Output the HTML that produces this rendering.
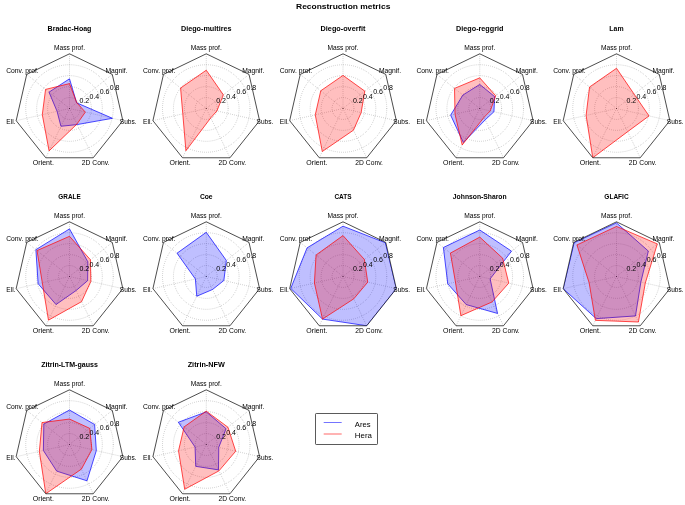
<!DOCTYPE html>
<html><head><meta charset="utf-8"><title>Reconstruction metrics</title>
<style>
html,body{margin:0;padding:0;background:#fff;}
body{width:685px;height:505px;overflow:hidden;font-family:"Liberation Sans",sans-serif;}
svg{display:block;will-change:transform;}
.gr{fill:none;stroke:#000;stroke-width:0.3;stroke-dasharray:0.6 1.46;}
.fr{fill:none;stroke:#000;stroke-width:0.7;stroke-linejoin:miter;}
.b{fill:#00f;fill-opacity:0.25;stroke:#00f;stroke-width:0.7;stroke-linejoin:round;}
.r{fill:#f00;fill-opacity:0.25;stroke:#f00;stroke-width:0.7;stroke-linejoin:round;}
</style></head><body>
<svg width="685" height="505" viewBox="0 0 685 505" font-family="'Liberation Sans', sans-serif" fill="#000">
<rect width="685" height="505" fill="#fff"/>
<text x="343.2" y="8.7" font-size="7.56" font-weight="bold" text-anchor="middle" textLength="94.33" lengthAdjust="spacingAndGlyphs">Reconstruction metrics</text>
<g>
<clipPath id="c0"><polygon points="69.5,53.8 26.73,74.4 16.17,120.67 45.77,157.78 93.23,157.78 122.83,120.67 112.27,74.4"/></clipPath>
<g clip-path="url(#c0)">
<circle cx="69.5" cy="108.5" r="10.94" class="gr"/>
<circle cx="69.5" cy="108.5" r="21.88" class="gr"/>
<circle cx="69.5" cy="108.5" r="32.82" class="gr"/>
<circle cx="69.5" cy="108.5" r="43.76" class="gr"/>
<line x1="69.5" y1="108.5" x2="69.5" y2="53.8" class="gr"/>
<line x1="69.5" y1="108.5" x2="26.73" y2="74.4" class="gr"/>
<line x1="69.5" y1="108.5" x2="16.17" y2="120.67" class="gr"/>
<line x1="69.5" y1="108.5" x2="45.77" y2="157.78" class="gr"/>
<line x1="69.5" y1="108.5" x2="93.23" y2="157.78" class="gr"/>
<line x1="69.5" y1="108.5" x2="122.83" y2="120.67" class="gr"/>
<line x1="69.5" y1="108.5" x2="112.27" y2="74.4" class="gr"/>
<polygon points="69.5,78.8 49.01,92.16 57.07,111.34 60.93,126.29 77.24,124.57 112.43,118.3 76.64,102.8" class="b"/>
<polygon points="69.5,83.61 45.55,89.4 42.3,114.71 49.09,150.88 76.98,124.02 85.34,112.12 76.77,102.7" class="r"/>
</g>
<polygon points="69.5,53.8 26.73,74.4 16.17,120.67 45.77,157.78 93.23,157.78 122.83,120.67 112.27,74.4" class="fr"/>
<circle cx="69.5" cy="108.5" r="0.3" fill="#000"/>
<text x="69.5" y="50.22" font-size="6.43" text-anchor="middle" textLength="31.02" lengthAdjust="spacingAndGlyphs">Mass prof.</text>
<text x="22.46" y="72.87" font-size="6.43" text-anchor="middle" textLength="32.6" lengthAdjust="spacingAndGlyphs">Conv. prof.</text>
<text x="10.84" y="123.78" font-size="6.43" text-anchor="middle" textLength="9.21" lengthAdjust="spacingAndGlyphs">Ell.</text>
<text x="43.39" y="164.6" font-size="6.43" text-anchor="middle" textLength="21.02" lengthAdjust="spacingAndGlyphs">Orient.</text>
<text x="95.61" y="164.6" font-size="6.43" text-anchor="middle" textLength="27.54" lengthAdjust="spacingAndGlyphs">2D Conv.</text>
<text x="128.16" y="123.78" font-size="6.43" text-anchor="middle" textLength="16.78" lengthAdjust="spacingAndGlyphs">Subs.</text>
<text x="116.54" y="72.87" font-size="6.43" text-anchor="middle" textLength="22.15" lengthAdjust="spacingAndGlyphs">Magnif.</text>
<text x="84.31" y="102.84" font-size="6.43" text-anchor="middle" textLength="9.73" lengthAdjust="spacingAndGlyphs">0.2</text>
<text x="94.41" y="98.66" font-size="6.43" text-anchor="middle" textLength="9.73" lengthAdjust="spacingAndGlyphs">0.4</text>
<text x="104.52" y="94.47" font-size="6.43" text-anchor="middle" textLength="9.73" lengthAdjust="spacingAndGlyphs">0.6</text>
<text x="114.63" y="90.28" font-size="6.43" text-anchor="middle" textLength="9.73" lengthAdjust="spacingAndGlyphs">0.8</text>
<text x="69.5" y="31.4" font-size="6.35" font-weight="bold" text-anchor="middle" textLength="43.82" lengthAdjust="spacingAndGlyphs">Bradac-Hoag</text>
</g>
<g>
<clipPath id="c1"><polygon points="206.25,53.8 163.48,74.4 152.92,120.67 182.52,157.78 229.98,157.78 259.58,120.67 249.02,74.4"/></clipPath>
<g clip-path="url(#c1)">
<circle cx="206.25" cy="108.5" r="10.94" class="gr"/>
<circle cx="206.25" cy="108.5" r="21.88" class="gr"/>
<circle cx="206.25" cy="108.5" r="32.82" class="gr"/>
<circle cx="206.25" cy="108.5" r="43.76" class="gr"/>
<line x1="206.25" y1="108.5" x2="206.25" y2="53.8" class="gr"/>
<line x1="206.25" y1="108.5" x2="163.48" y2="74.4" class="gr"/>
<line x1="206.25" y1="108.5" x2="152.92" y2="120.67" class="gr"/>
<line x1="206.25" y1="108.5" x2="182.52" y2="157.78" class="gr"/>
<line x1="206.25" y1="108.5" x2="229.98" y2="157.78" class="gr"/>
<line x1="206.25" y1="108.5" x2="259.58" y2="120.67" class="gr"/>
<line x1="206.25" y1="108.5" x2="249.02" y2="74.4" class="gr"/>
<polygon points="206.25,70.21 180.59,88.04 182.79,113.86 185.91,150.74 210.76,117.86 216.92,110.93 223.36,94.86" class="r"/>
</g>
<polygon points="206.25,53.8 163.48,74.4 152.92,120.67 182.52,157.78 229.98,157.78 259.58,120.67 249.02,74.4" class="fr"/>
<circle cx="206.25" cy="108.5" r="0.3" fill="#000"/>
<text x="206.25" y="50.22" font-size="6.43" text-anchor="middle" textLength="31.02" lengthAdjust="spacingAndGlyphs">Mass prof.</text>
<text x="159.21" y="72.87" font-size="6.43" text-anchor="middle" textLength="32.6" lengthAdjust="spacingAndGlyphs">Conv. prof.</text>
<text x="147.59" y="123.78" font-size="6.43" text-anchor="middle" textLength="9.21" lengthAdjust="spacingAndGlyphs">Ell.</text>
<text x="180.14" y="164.6" font-size="6.43" text-anchor="middle" textLength="21.02" lengthAdjust="spacingAndGlyphs">Orient.</text>
<text x="232.36" y="164.6" font-size="6.43" text-anchor="middle" textLength="27.54" lengthAdjust="spacingAndGlyphs">2D Conv.</text>
<text x="264.91" y="123.78" font-size="6.43" text-anchor="middle" textLength="16.78" lengthAdjust="spacingAndGlyphs">Subs.</text>
<text x="253.29" y="72.87" font-size="6.43" text-anchor="middle" textLength="22.15" lengthAdjust="spacingAndGlyphs">Magnif.</text>
<text x="221.06" y="102.84" font-size="6.43" text-anchor="middle" textLength="9.73" lengthAdjust="spacingAndGlyphs">0.2</text>
<text x="231.16" y="98.66" font-size="6.43" text-anchor="middle" textLength="9.73" lengthAdjust="spacingAndGlyphs">0.4</text>
<text x="241.27" y="94.47" font-size="6.43" text-anchor="middle" textLength="9.73" lengthAdjust="spacingAndGlyphs">0.6</text>
<text x="251.38" y="90.28" font-size="6.43" text-anchor="middle" textLength="9.73" lengthAdjust="spacingAndGlyphs">0.8</text>
<text x="206.25" y="31.4" font-size="6.35" font-weight="bold" text-anchor="middle" textLength="50.54" lengthAdjust="spacingAndGlyphs">Diego-multires</text>
</g>
<g>
<clipPath id="c2"><polygon points="343,53.8 300.23,74.4 289.67,120.67 319.27,157.78 366.73,157.78 396.33,120.67 385.77,74.4"/></clipPath>
<g clip-path="url(#c2)">
<circle cx="343" cy="108.5" r="10.94" class="gr"/>
<circle cx="343" cy="108.5" r="21.88" class="gr"/>
<circle cx="343" cy="108.5" r="32.82" class="gr"/>
<circle cx="343" cy="108.5" r="43.76" class="gr"/>
<line x1="343" y1="108.5" x2="343" y2="53.8" class="gr"/>
<line x1="343" y1="108.5" x2="300.23" y2="74.4" class="gr"/>
<line x1="343" y1="108.5" x2="289.67" y2="120.67" class="gr"/>
<line x1="343" y1="108.5" x2="319.27" y2="157.78" class="gr"/>
<line x1="343" y1="108.5" x2="366.73" y2="157.78" class="gr"/>
<line x1="343" y1="108.5" x2="396.33" y2="120.67" class="gr"/>
<line x1="343" y1="108.5" x2="385.77" y2="74.4" class="gr"/>
<polygon points="343,75.41 320.76,90.77 315.27,114.83 322.28,151.52 353.44,130.18 361.13,112.64 364.81,91.11" class="r"/>
</g>
<polygon points="343,53.8 300.23,74.4 289.67,120.67 319.27,157.78 366.73,157.78 396.33,120.67 385.77,74.4" class="fr"/>
<circle cx="343" cy="108.5" r="0.3" fill="#000"/>
<text x="343" y="50.22" font-size="6.43" text-anchor="middle" textLength="31.02" lengthAdjust="spacingAndGlyphs">Mass prof.</text>
<text x="295.96" y="72.87" font-size="6.43" text-anchor="middle" textLength="32.6" lengthAdjust="spacingAndGlyphs">Conv. prof.</text>
<text x="284.34" y="123.78" font-size="6.43" text-anchor="middle" textLength="9.21" lengthAdjust="spacingAndGlyphs">Ell.</text>
<text x="316.89" y="164.6" font-size="6.43" text-anchor="middle" textLength="21.02" lengthAdjust="spacingAndGlyphs">Orient.</text>
<text x="369.11" y="164.6" font-size="6.43" text-anchor="middle" textLength="27.54" lengthAdjust="spacingAndGlyphs">2D Conv.</text>
<text x="401.66" y="123.78" font-size="6.43" text-anchor="middle" textLength="16.78" lengthAdjust="spacingAndGlyphs">Subs.</text>
<text x="390.04" y="72.87" font-size="6.43" text-anchor="middle" textLength="22.15" lengthAdjust="spacingAndGlyphs">Magnif.</text>
<text x="357.81" y="102.84" font-size="6.43" text-anchor="middle" textLength="9.73" lengthAdjust="spacingAndGlyphs">0.2</text>
<text x="367.91" y="98.66" font-size="6.43" text-anchor="middle" textLength="9.73" lengthAdjust="spacingAndGlyphs">0.4</text>
<text x="378.02" y="94.47" font-size="6.43" text-anchor="middle" textLength="9.73" lengthAdjust="spacingAndGlyphs">0.6</text>
<text x="388.13" y="90.28" font-size="6.43" text-anchor="middle" textLength="9.73" lengthAdjust="spacingAndGlyphs">0.8</text>
<text x="343" y="31.4" font-size="6.35" font-weight="bold" text-anchor="middle" textLength="44.76" lengthAdjust="spacingAndGlyphs">Diego-overfit</text>
</g>
<g>
<clipPath id="c3"><polygon points="479.75,53.8 436.98,74.4 426.42,120.67 456.02,157.78 503.48,157.78 533.08,120.67 522.52,74.4"/></clipPath>
<g clip-path="url(#c3)">
<circle cx="479.75" cy="108.5" r="10.94" class="gr"/>
<circle cx="479.75" cy="108.5" r="21.88" class="gr"/>
<circle cx="479.75" cy="108.5" r="32.82" class="gr"/>
<circle cx="479.75" cy="108.5" r="43.76" class="gr"/>
<line x1="479.75" y1="108.5" x2="479.75" y2="53.8" class="gr"/>
<line x1="479.75" y1="108.5" x2="436.98" y2="74.4" class="gr"/>
<line x1="479.75" y1="108.5" x2="426.42" y2="120.67" class="gr"/>
<line x1="479.75" y1="108.5" x2="456.02" y2="157.78" class="gr"/>
<line x1="479.75" y1="108.5" x2="503.48" y2="157.78" class="gr"/>
<line x1="479.75" y1="108.5" x2="533.08" y2="120.67" class="gr"/>
<line x1="479.75" y1="108.5" x2="522.52" y2="74.4" class="gr"/>
<polygon points="479.75,84.43 462.9,95.06 450.63,115.15 463.37,142.51 485.21,119.84 493.94,111.74 494.63,96.63" class="b"/>
<polygon points="479.75,77.87 454.52,88.38 455.01,114.15 462.19,144.97 484.02,117.37 490.26,110.9 495.7,95.78" class="r"/>
</g>
<polygon points="479.75,53.8 436.98,74.4 426.42,120.67 456.02,157.78 503.48,157.78 533.08,120.67 522.52,74.4" class="fr"/>
<circle cx="479.75" cy="108.5" r="0.3" fill="#000"/>
<text x="479.75" y="50.22" font-size="6.43" text-anchor="middle" textLength="31.02" lengthAdjust="spacingAndGlyphs">Mass prof.</text>
<text x="432.71" y="72.87" font-size="6.43" text-anchor="middle" textLength="32.6" lengthAdjust="spacingAndGlyphs">Conv. prof.</text>
<text x="421.09" y="123.78" font-size="6.43" text-anchor="middle" textLength="9.21" lengthAdjust="spacingAndGlyphs">Ell.</text>
<text x="453.64" y="164.6" font-size="6.43" text-anchor="middle" textLength="21.02" lengthAdjust="spacingAndGlyphs">Orient.</text>
<text x="505.86" y="164.6" font-size="6.43" text-anchor="middle" textLength="27.54" lengthAdjust="spacingAndGlyphs">2D Conv.</text>
<text x="538.41" y="123.78" font-size="6.43" text-anchor="middle" textLength="16.78" lengthAdjust="spacingAndGlyphs">Subs.</text>
<text x="526.79" y="72.87" font-size="6.43" text-anchor="middle" textLength="22.15" lengthAdjust="spacingAndGlyphs">Magnif.</text>
<text x="494.56" y="102.84" font-size="6.43" text-anchor="middle" textLength="9.73" lengthAdjust="spacingAndGlyphs">0.2</text>
<text x="504.66" y="98.66" font-size="6.43" text-anchor="middle" textLength="9.73" lengthAdjust="spacingAndGlyphs">0.4</text>
<text x="514.77" y="94.47" font-size="6.43" text-anchor="middle" textLength="9.73" lengthAdjust="spacingAndGlyphs">0.6</text>
<text x="524.88" y="90.28" font-size="6.43" text-anchor="middle" textLength="9.73" lengthAdjust="spacingAndGlyphs">0.8</text>
<text x="479.75" y="31.4" font-size="6.35" font-weight="bold" text-anchor="middle" textLength="47.33" lengthAdjust="spacingAndGlyphs">Diego-reggrid</text>
</g>
<g>
<clipPath id="c4"><polygon points="616.5,53.8 573.73,74.4 563.17,120.67 592.77,157.78 640.23,157.78 669.83,120.67 659.27,74.4"/></clipPath>
<g clip-path="url(#c4)">
<circle cx="616.5" cy="108.5" r="10.94" class="gr"/>
<circle cx="616.5" cy="108.5" r="21.88" class="gr"/>
<circle cx="616.5" cy="108.5" r="32.82" class="gr"/>
<circle cx="616.5" cy="108.5" r="43.76" class="gr"/>
<line x1="616.5" y1="108.5" x2="616.5" y2="53.8" class="gr"/>
<line x1="616.5" y1="108.5" x2="573.73" y2="74.4" class="gr"/>
<line x1="616.5" y1="108.5" x2="563.17" y2="120.67" class="gr"/>
<line x1="616.5" y1="108.5" x2="592.77" y2="157.78" class="gr"/>
<line x1="616.5" y1="108.5" x2="640.23" y2="157.78" class="gr"/>
<line x1="616.5" y1="108.5" x2="669.83" y2="120.67" class="gr"/>
<line x1="616.5" y1="108.5" x2="659.27" y2="74.4" class="gr"/>
<polygon points="616.5,68.3 589.56,87.01 586.1,115.44 592.77,157.78 627.65,131.66 649.03,115.92 634.25,94.35" class="r"/>
</g>
<polygon points="616.5,53.8 573.73,74.4 563.17,120.67 592.77,157.78 640.23,157.78 669.83,120.67 659.27,74.4" class="fr"/>
<circle cx="616.5" cy="108.5" r="0.3" fill="#000"/>
<text x="616.5" y="50.22" font-size="6.43" text-anchor="middle" textLength="31.02" lengthAdjust="spacingAndGlyphs">Mass prof.</text>
<text x="569.46" y="72.87" font-size="6.43" text-anchor="middle" textLength="32.6" lengthAdjust="spacingAndGlyphs">Conv. prof.</text>
<text x="557.84" y="123.78" font-size="6.43" text-anchor="middle" textLength="9.21" lengthAdjust="spacingAndGlyphs">Ell.</text>
<text x="590.39" y="164.6" font-size="6.43" text-anchor="middle" textLength="21.02" lengthAdjust="spacingAndGlyphs">Orient.</text>
<text x="642.61" y="164.6" font-size="6.43" text-anchor="middle" textLength="27.54" lengthAdjust="spacingAndGlyphs">2D Conv.</text>
<text x="675.16" y="123.78" font-size="6.43" text-anchor="middle" textLength="16.78" lengthAdjust="spacingAndGlyphs">Subs.</text>
<text x="663.54" y="72.87" font-size="6.43" text-anchor="middle" textLength="22.15" lengthAdjust="spacingAndGlyphs">Magnif.</text>
<text x="631.31" y="102.84" font-size="6.43" text-anchor="middle" textLength="9.73" lengthAdjust="spacingAndGlyphs">0.2</text>
<text x="641.41" y="98.66" font-size="6.43" text-anchor="middle" textLength="9.73" lengthAdjust="spacingAndGlyphs">0.4</text>
<text x="651.52" y="94.47" font-size="6.43" text-anchor="middle" textLength="9.73" lengthAdjust="spacingAndGlyphs">0.6</text>
<text x="661.63" y="90.28" font-size="6.43" text-anchor="middle" textLength="9.73" lengthAdjust="spacingAndGlyphs">0.8</text>
<text x="616.5" y="31.4" font-size="6.35" font-weight="bold" text-anchor="middle" textLength="14.24" lengthAdjust="spacingAndGlyphs">Lam</text>
</g>
<g>
<clipPath id="c5"><polygon points="69.5,221.8 26.73,242.4 16.17,288.67 45.77,325.78 93.23,325.78 122.83,288.67 112.27,242.4"/></clipPath>
<g clip-path="url(#c5)">
<circle cx="69.5" cy="276.5" r="10.94" class="gr"/>
<circle cx="69.5" cy="276.5" r="21.88" class="gr"/>
<circle cx="69.5" cy="276.5" r="32.82" class="gr"/>
<circle cx="69.5" cy="276.5" r="43.76" class="gr"/>
<line x1="69.5" y1="276.5" x2="69.5" y2="221.8" class="gr"/>
<line x1="69.5" y1="276.5" x2="26.73" y2="242.4" class="gr"/>
<line x1="69.5" y1="276.5" x2="16.17" y2="288.67" class="gr"/>
<line x1="69.5" y1="276.5" x2="45.77" y2="325.78" class="gr"/>
<line x1="69.5" y1="276.5" x2="93.23" y2="325.78" class="gr"/>
<line x1="69.5" y1="276.5" x2="122.83" y2="288.67" class="gr"/>
<line x1="69.5" y1="276.5" x2="112.27" y2="242.4" class="gr"/>
<polygon points="69.5,228.91 35.89,249.69 38.14,283.66 56,304.54 76.22,290.45 87.63,280.64 87.89,261.83" class="b"/>
<polygon points="69.5,236.3 37,250.58 42.3,282.71 48.47,320.16 81.6,301.63 90.83,281.37 90.46,259.79" class="r"/>
</g>
<polygon points="69.5,221.8 26.73,242.4 16.17,288.67 45.77,325.78 93.23,325.78 122.83,288.67 112.27,242.4" class="fr"/>
<circle cx="69.5" cy="276.5" r="0.3" fill="#000"/>
<text x="69.5" y="218.22" font-size="6.43" text-anchor="middle" textLength="31.02" lengthAdjust="spacingAndGlyphs">Mass prof.</text>
<text x="22.46" y="240.87" font-size="6.43" text-anchor="middle" textLength="32.6" lengthAdjust="spacingAndGlyphs">Conv. prof.</text>
<text x="10.84" y="291.78" font-size="6.43" text-anchor="middle" textLength="9.21" lengthAdjust="spacingAndGlyphs">Ell.</text>
<text x="43.39" y="332.6" font-size="6.43" text-anchor="middle" textLength="21.02" lengthAdjust="spacingAndGlyphs">Orient.</text>
<text x="95.61" y="332.6" font-size="6.43" text-anchor="middle" textLength="27.54" lengthAdjust="spacingAndGlyphs">2D Conv.</text>
<text x="128.16" y="291.78" font-size="6.43" text-anchor="middle" textLength="16.78" lengthAdjust="spacingAndGlyphs">Subs.</text>
<text x="116.54" y="240.87" font-size="6.43" text-anchor="middle" textLength="22.15" lengthAdjust="spacingAndGlyphs">Magnif.</text>
<text x="84.31" y="270.84" font-size="6.43" text-anchor="middle" textLength="9.73" lengthAdjust="spacingAndGlyphs">0.2</text>
<text x="94.41" y="266.66" font-size="6.43" text-anchor="middle" textLength="9.73" lengthAdjust="spacingAndGlyphs">0.4</text>
<text x="104.52" y="262.47" font-size="6.43" text-anchor="middle" textLength="9.73" lengthAdjust="spacingAndGlyphs">0.6</text>
<text x="114.63" y="258.28" font-size="6.43" text-anchor="middle" textLength="9.73" lengthAdjust="spacingAndGlyphs">0.8</text>
<text x="69.5" y="199.4" font-size="6.35" font-weight="bold" text-anchor="middle" textLength="22.29" lengthAdjust="spacingAndGlyphs">GRALE</text>
</g>
<g>
<clipPath id="c6"><polygon points="206.25,221.8 163.48,242.4 152.92,288.67 182.52,325.78 229.98,325.78 259.58,288.67 249.02,242.4"/></clipPath>
<g clip-path="url(#c6)">
<circle cx="206.25" cy="276.5" r="10.94" class="gr"/>
<circle cx="206.25" cy="276.5" r="21.88" class="gr"/>
<circle cx="206.25" cy="276.5" r="32.82" class="gr"/>
<circle cx="206.25" cy="276.5" r="43.76" class="gr"/>
<line x1="206.25" y1="276.5" x2="206.25" y2="221.8" class="gr"/>
<line x1="206.25" y1="276.5" x2="163.48" y2="242.4" class="gr"/>
<line x1="206.25" y1="276.5" x2="152.92" y2="288.67" class="gr"/>
<line x1="206.25" y1="276.5" x2="182.52" y2="325.78" class="gr"/>
<line x1="206.25" y1="276.5" x2="229.98" y2="325.78" class="gr"/>
<line x1="206.25" y1="276.5" x2="259.58" y2="288.67" class="gr"/>
<line x1="206.25" y1="276.5" x2="249.02" y2="242.4" class="gr"/>
<polygon points="206.25,232.3 177.04,253.21 195.37,278.98 196.76,296.21 212.52,289.51 223.85,280.52 226.35,260.47" class="b"/>
</g>
<polygon points="206.25,221.8 163.48,242.4 152.92,288.67 182.52,325.78 229.98,325.78 259.58,288.67 249.02,242.4" class="fr"/>
<circle cx="206.25" cy="276.5" r="0.3" fill="#000"/>
<text x="206.25" y="218.22" font-size="6.43" text-anchor="middle" textLength="31.02" lengthAdjust="spacingAndGlyphs">Mass prof.</text>
<text x="159.21" y="240.87" font-size="6.43" text-anchor="middle" textLength="32.6" lengthAdjust="spacingAndGlyphs">Conv. prof.</text>
<text x="147.59" y="291.78" font-size="6.43" text-anchor="middle" textLength="9.21" lengthAdjust="spacingAndGlyphs">Ell.</text>
<text x="180.14" y="332.6" font-size="6.43" text-anchor="middle" textLength="21.02" lengthAdjust="spacingAndGlyphs">Orient.</text>
<text x="232.36" y="332.6" font-size="6.43" text-anchor="middle" textLength="27.54" lengthAdjust="spacingAndGlyphs">2D Conv.</text>
<text x="264.91" y="291.78" font-size="6.43" text-anchor="middle" textLength="16.78" lengthAdjust="spacingAndGlyphs">Subs.</text>
<text x="253.29" y="240.87" font-size="6.43" text-anchor="middle" textLength="22.15" lengthAdjust="spacingAndGlyphs">Magnif.</text>
<text x="221.06" y="270.84" font-size="6.43" text-anchor="middle" textLength="9.73" lengthAdjust="spacingAndGlyphs">0.2</text>
<text x="231.16" y="266.66" font-size="6.43" text-anchor="middle" textLength="9.73" lengthAdjust="spacingAndGlyphs">0.4</text>
<text x="241.27" y="262.47" font-size="6.43" text-anchor="middle" textLength="9.73" lengthAdjust="spacingAndGlyphs">0.6</text>
<text x="251.38" y="258.28" font-size="6.43" text-anchor="middle" textLength="9.73" lengthAdjust="spacingAndGlyphs">0.8</text>
<text x="206.25" y="199.4" font-size="6.35" font-weight="bold" text-anchor="middle" textLength="12.7" lengthAdjust="spacingAndGlyphs">Coe</text>
</g>
<g>
<clipPath id="c7"><polygon points="343,221.8 300.23,242.4 289.67,288.67 319.27,325.78 366.73,325.78 396.33,288.67 385.77,242.4"/></clipPath>
<g clip-path="url(#c7)">
<circle cx="343" cy="276.5" r="10.94" class="gr"/>
<circle cx="343" cy="276.5" r="21.88" class="gr"/>
<circle cx="343" cy="276.5" r="32.82" class="gr"/>
<circle cx="343" cy="276.5" r="43.76" class="gr"/>
<line x1="343" y1="276.5" x2="343" y2="221.8" class="gr"/>
<line x1="343" y1="276.5" x2="300.23" y2="242.4" class="gr"/>
<line x1="343" y1="276.5" x2="289.67" y2="288.67" class="gr"/>
<line x1="343" y1="276.5" x2="319.27" y2="325.78" class="gr"/>
<line x1="343" y1="276.5" x2="366.73" y2="325.78" class="gr"/>
<line x1="343" y1="276.5" x2="396.33" y2="288.67" class="gr"/>
<line x1="343" y1="276.5" x2="385.77" y2="242.4" class="gr"/>
<polygon points="343,226.18 307.08,247.85 290.74,288.43 322.49,319.08 366.73,325.78 396.33,288.67 385.34,242.74" class="b"/>
<polygon points="343,235.58 316.06,255.01 314.42,283.02 322.49,319.08 353.75,298.83 367.74,282.15 364.38,259.45" class="r"/>
</g>
<polygon points="343,221.8 300.23,242.4 289.67,288.67 319.27,325.78 366.73,325.78 396.33,288.67 385.77,242.4" class="fr"/>
<circle cx="343" cy="276.5" r="0.3" fill="#000"/>
<text x="343" y="218.22" font-size="6.43" text-anchor="middle" textLength="31.02" lengthAdjust="spacingAndGlyphs">Mass prof.</text>
<text x="295.96" y="240.87" font-size="6.43" text-anchor="middle" textLength="32.6" lengthAdjust="spacingAndGlyphs">Conv. prof.</text>
<text x="284.34" y="291.78" font-size="6.43" text-anchor="middle" textLength="9.21" lengthAdjust="spacingAndGlyphs">Ell.</text>
<text x="316.89" y="332.6" font-size="6.43" text-anchor="middle" textLength="21.02" lengthAdjust="spacingAndGlyphs">Orient.</text>
<text x="369.11" y="332.6" font-size="6.43" text-anchor="middle" textLength="27.54" lengthAdjust="spacingAndGlyphs">2D Conv.</text>
<text x="401.66" y="291.78" font-size="6.43" text-anchor="middle" textLength="16.78" lengthAdjust="spacingAndGlyphs">Subs.</text>
<text x="390.04" y="240.87" font-size="6.43" text-anchor="middle" textLength="22.15" lengthAdjust="spacingAndGlyphs">Magnif.</text>
<text x="357.81" y="270.84" font-size="6.43" text-anchor="middle" textLength="9.73" lengthAdjust="spacingAndGlyphs">0.2</text>
<text x="367.91" y="266.66" font-size="6.43" text-anchor="middle" textLength="9.73" lengthAdjust="spacingAndGlyphs">0.4</text>
<text x="378.02" y="262.47" font-size="6.43" text-anchor="middle" textLength="9.73" lengthAdjust="spacingAndGlyphs">0.6</text>
<text x="388.13" y="258.28" font-size="6.43" text-anchor="middle" textLength="9.73" lengthAdjust="spacingAndGlyphs">0.8</text>
<text x="343" y="199.4" font-size="6.35" font-weight="bold" text-anchor="middle" textLength="17.14" lengthAdjust="spacingAndGlyphs">CATS</text>
</g>
<g>
<clipPath id="c8"><polygon points="479.75,221.8 436.98,242.4 426.42,288.67 456.02,325.78 503.48,325.78 533.08,288.67 522.52,242.4"/></clipPath>
<g clip-path="url(#c8)">
<circle cx="479.75" cy="276.5" r="10.94" class="gr"/>
<circle cx="479.75" cy="276.5" r="21.88" class="gr"/>
<circle cx="479.75" cy="276.5" r="32.82" class="gr"/>
<circle cx="479.75" cy="276.5" r="43.76" class="gr"/>
<line x1="479.75" y1="276.5" x2="479.75" y2="221.8" class="gr"/>
<line x1="479.75" y1="276.5" x2="436.98" y2="242.4" class="gr"/>
<line x1="479.75" y1="276.5" x2="426.42" y2="288.67" class="gr"/>
<line x1="479.75" y1="276.5" x2="456.02" y2="325.78" class="gr"/>
<line x1="479.75" y1="276.5" x2="503.48" y2="325.78" class="gr"/>
<line x1="479.75" y1="276.5" x2="533.08" y2="288.67" class="gr"/>
<line x1="479.75" y1="276.5" x2="522.52" y2="242.4" class="gr"/>
<polygon points="479.75,230 443.4,247.51 447.75,283.8 466.22,304.59 497.55,313.46 490.15,278.87 511.53,251.16" class="b"/>
<polygon points="479.75,237.12 450.41,253.1 455.43,282.05 460.88,315.68 492.02,301.98 508.76,283.12 502.67,258.22" class="r"/>
</g>
<polygon points="479.75,221.8 436.98,242.4 426.42,288.67 456.02,325.78 503.48,325.78 533.08,288.67 522.52,242.4" class="fr"/>
<circle cx="479.75" cy="276.5" r="0.3" fill="#000"/>
<text x="479.75" y="218.22" font-size="6.43" text-anchor="middle" textLength="31.02" lengthAdjust="spacingAndGlyphs">Mass prof.</text>
<text x="432.71" y="240.87" font-size="6.43" text-anchor="middle" textLength="32.6" lengthAdjust="spacingAndGlyphs">Conv. prof.</text>
<text x="421.09" y="291.78" font-size="6.43" text-anchor="middle" textLength="9.21" lengthAdjust="spacingAndGlyphs">Ell.</text>
<text x="453.64" y="332.6" font-size="6.43" text-anchor="middle" textLength="21.02" lengthAdjust="spacingAndGlyphs">Orient.</text>
<text x="505.86" y="332.6" font-size="6.43" text-anchor="middle" textLength="27.54" lengthAdjust="spacingAndGlyphs">2D Conv.</text>
<text x="538.41" y="291.78" font-size="6.43" text-anchor="middle" textLength="16.78" lengthAdjust="spacingAndGlyphs">Subs.</text>
<text x="526.79" y="240.87" font-size="6.43" text-anchor="middle" textLength="22.15" lengthAdjust="spacingAndGlyphs">Magnif.</text>
<text x="494.56" y="270.84" font-size="6.43" text-anchor="middle" textLength="9.73" lengthAdjust="spacingAndGlyphs">0.2</text>
<text x="504.66" y="266.66" font-size="6.43" text-anchor="middle" textLength="9.73" lengthAdjust="spacingAndGlyphs">0.4</text>
<text x="514.77" y="262.47" font-size="6.43" text-anchor="middle" textLength="9.73" lengthAdjust="spacingAndGlyphs">0.6</text>
<text x="524.88" y="258.28" font-size="6.43" text-anchor="middle" textLength="9.73" lengthAdjust="spacingAndGlyphs">0.8</text>
<text x="479.75" y="199.4" font-size="6.35" font-weight="bold" text-anchor="middle" textLength="53.79" lengthAdjust="spacingAndGlyphs">Johnson-Sharon</text>
</g>
<g>
<clipPath id="c9"><polygon points="616.5,221.8 573.73,242.4 563.17,288.67 592.77,325.78 640.23,325.78 669.83,288.67 659.27,242.4"/></clipPath>
<g clip-path="url(#c9)">
<circle cx="616.5" cy="276.5" r="10.94" class="gr"/>
<circle cx="616.5" cy="276.5" r="21.88" class="gr"/>
<circle cx="616.5" cy="276.5" r="32.82" class="gr"/>
<circle cx="616.5" cy="276.5" r="43.76" class="gr"/>
<line x1="616.5" y1="276.5" x2="616.5" y2="221.8" class="gr"/>
<line x1="616.5" y1="276.5" x2="573.73" y2="242.4" class="gr"/>
<line x1="616.5" y1="276.5" x2="563.17" y2="288.67" class="gr"/>
<line x1="616.5" y1="276.5" x2="592.77" y2="325.78" class="gr"/>
<line x1="616.5" y1="276.5" x2="640.23" y2="325.78" class="gr"/>
<line x1="616.5" y1="276.5" x2="669.83" y2="288.67" class="gr"/>
<line x1="616.5" y1="276.5" x2="659.27" y2="242.4" class="gr"/>
<polygon points="616.5,222.89 574.16,242.74 563.17,288.67 596.21,318.64 635.49,315.93 640.87,282.06 648.36,251.09" class="b"/>
<polygon points="616.5,226.45 576.94,244.95 589.14,282.74 595.38,320.36 638.41,321.99 645.3,283.07 657.34,243.93" class="r"/>
</g>
<polygon points="616.5,221.8 573.73,242.4 563.17,288.67 592.77,325.78 640.23,325.78 669.83,288.67 659.27,242.4" class="fr"/>
<circle cx="616.5" cy="276.5" r="0.3" fill="#000"/>
<text x="616.5" y="218.22" font-size="6.43" text-anchor="middle" textLength="31.02" lengthAdjust="spacingAndGlyphs">Mass prof.</text>
<text x="569.46" y="240.87" font-size="6.43" text-anchor="middle" textLength="32.6" lengthAdjust="spacingAndGlyphs">Conv. prof.</text>
<text x="557.84" y="291.78" font-size="6.43" text-anchor="middle" textLength="9.21" lengthAdjust="spacingAndGlyphs">Ell.</text>
<text x="590.39" y="332.6" font-size="6.43" text-anchor="middle" textLength="21.02" lengthAdjust="spacingAndGlyphs">Orient.</text>
<text x="642.61" y="332.6" font-size="6.43" text-anchor="middle" textLength="27.54" lengthAdjust="spacingAndGlyphs">2D Conv.</text>
<text x="675.16" y="291.78" font-size="6.43" text-anchor="middle" textLength="16.78" lengthAdjust="spacingAndGlyphs">Subs.</text>
<text x="663.54" y="240.87" font-size="6.43" text-anchor="middle" textLength="22.15" lengthAdjust="spacingAndGlyphs">Magnif.</text>
<text x="631.31" y="270.84" font-size="6.43" text-anchor="middle" textLength="9.73" lengthAdjust="spacingAndGlyphs">0.2</text>
<text x="641.41" y="266.66" font-size="6.43" text-anchor="middle" textLength="9.73" lengthAdjust="spacingAndGlyphs">0.4</text>
<text x="651.52" y="262.47" font-size="6.43" text-anchor="middle" textLength="9.73" lengthAdjust="spacingAndGlyphs">0.6</text>
<text x="661.63" y="258.28" font-size="6.43" text-anchor="middle" textLength="9.73" lengthAdjust="spacingAndGlyphs">0.8</text>
<text x="616.5" y="199.4" font-size="6.35" font-weight="bold" text-anchor="middle" textLength="24.33" lengthAdjust="spacingAndGlyphs">GLAFIC</text>
</g>
<g>
<clipPath id="c10"><polygon points="69.5,389.8 26.73,410.4 16.17,456.67 45.77,493.78 93.23,493.78 122.83,456.67 112.27,410.4"/></clipPath>
<g clip-path="url(#c10)">
<circle cx="69.5" cy="444.5" r="10.94" class="gr"/>
<circle cx="69.5" cy="444.5" r="21.88" class="gr"/>
<circle cx="69.5" cy="444.5" r="32.82" class="gr"/>
<circle cx="69.5" cy="444.5" r="43.76" class="gr"/>
<line x1="69.5" y1="444.5" x2="69.5" y2="389.8" class="gr"/>
<line x1="69.5" y1="444.5" x2="26.73" y2="410.4" class="gr"/>
<line x1="69.5" y1="444.5" x2="16.17" y2="456.67" class="gr"/>
<line x1="69.5" y1="444.5" x2="45.77" y2="493.78" class="gr"/>
<line x1="69.5" y1="444.5" x2="93.23" y2="493.78" class="gr"/>
<line x1="69.5" y1="444.5" x2="122.83" y2="456.67" class="gr"/>
<line x1="69.5" y1="444.5" x2="112.27" y2="410.4" class="gr"/>
<polygon points="69.5,410.04 43.84,424.04 43.37,450.46 56.68,471.11 86.99,480.82 96.32,450.62 94.6,424.48" class="b"/>
<polygon points="69.5,419.06 42,422.57 39.37,451.38 45.77,493.78 81.37,469.14 91.9,449.61 89.73,428.37" class="r"/>
</g>
<polygon points="69.5,389.8 26.73,410.4 16.17,456.67 45.77,493.78 93.23,493.78 122.83,456.67 112.27,410.4" class="fr"/>
<circle cx="69.5" cy="444.5" r="0.3" fill="#000"/>
<text x="69.5" y="386.22" font-size="6.43" text-anchor="middle" textLength="31.02" lengthAdjust="spacingAndGlyphs">Mass prof.</text>
<text x="22.46" y="408.87" font-size="6.43" text-anchor="middle" textLength="32.6" lengthAdjust="spacingAndGlyphs">Conv. prof.</text>
<text x="10.84" y="459.78" font-size="6.43" text-anchor="middle" textLength="9.21" lengthAdjust="spacingAndGlyphs">Ell.</text>
<text x="43.39" y="500.6" font-size="6.43" text-anchor="middle" textLength="21.02" lengthAdjust="spacingAndGlyphs">Orient.</text>
<text x="95.61" y="500.6" font-size="6.43" text-anchor="middle" textLength="27.54" lengthAdjust="spacingAndGlyphs">2D Conv.</text>
<text x="128.16" y="459.78" font-size="6.43" text-anchor="middle" textLength="16.78" lengthAdjust="spacingAndGlyphs">Subs.</text>
<text x="116.54" y="408.87" font-size="6.43" text-anchor="middle" textLength="22.15" lengthAdjust="spacingAndGlyphs">Magnif.</text>
<text x="84.31" y="438.84" font-size="6.43" text-anchor="middle" textLength="9.73" lengthAdjust="spacingAndGlyphs">0.2</text>
<text x="94.41" y="434.66" font-size="6.43" text-anchor="middle" textLength="9.73" lengthAdjust="spacingAndGlyphs">0.4</text>
<text x="104.52" y="430.47" font-size="6.43" text-anchor="middle" textLength="9.73" lengthAdjust="spacingAndGlyphs">0.6</text>
<text x="114.63" y="426.28" font-size="6.43" text-anchor="middle" textLength="9.73" lengthAdjust="spacingAndGlyphs">0.8</text>
<text x="69.5" y="367.4" font-size="6.35" font-weight="bold" text-anchor="middle" textLength="56.66" lengthAdjust="spacingAndGlyphs">Zitrin-LTM-gauss</text>
</g>
<g>
<clipPath id="c11"><polygon points="206.25,389.8 163.48,410.4 152.92,456.67 182.52,493.78 229.98,493.78 259.58,456.67 249.02,410.4"/></clipPath>
<g clip-path="url(#c11)">
<circle cx="206.25" cy="444.5" r="10.94" class="gr"/>
<circle cx="206.25" cy="444.5" r="21.88" class="gr"/>
<circle cx="206.25" cy="444.5" r="32.82" class="gr"/>
<circle cx="206.25" cy="444.5" r="43.76" class="gr"/>
<line x1="206.25" y1="444.5" x2="206.25" y2="389.8" class="gr"/>
<line x1="206.25" y1="444.5" x2="163.48" y2="410.4" class="gr"/>
<line x1="206.25" y1="444.5" x2="152.92" y2="456.67" class="gr"/>
<line x1="206.25" y1="444.5" x2="182.52" y2="493.78" class="gr"/>
<line x1="206.25" y1="444.5" x2="229.98" y2="493.78" class="gr"/>
<line x1="206.25" y1="444.5" x2="259.58" y2="456.67" class="gr"/>
<line x1="206.25" y1="444.5" x2="249.02" y2="410.4" class="gr"/>
<polygon points="206.25,411.9 178.37,422.26 195.05,447.06 195.74,466.33 218.47,469.88 218.78,447.36 226.09,428.68" class="b"/>
<polygon points="206.25,411.13 184.14,426.87 178.52,450.83 184.7,489.25 218.95,470.87 235.69,451.22 227.93,427.21" class="r"/>
</g>
<polygon points="206.25,389.8 163.48,410.4 152.92,456.67 182.52,493.78 229.98,493.78 259.58,456.67 249.02,410.4" class="fr"/>
<circle cx="206.25" cy="444.5" r="0.3" fill="#000"/>
<text x="206.25" y="386.22" font-size="6.43" text-anchor="middle" textLength="31.02" lengthAdjust="spacingAndGlyphs">Mass prof.</text>
<text x="159.21" y="408.87" font-size="6.43" text-anchor="middle" textLength="32.6" lengthAdjust="spacingAndGlyphs">Conv. prof.</text>
<text x="147.59" y="459.78" font-size="6.43" text-anchor="middle" textLength="9.21" lengthAdjust="spacingAndGlyphs">Ell.</text>
<text x="180.14" y="500.6" font-size="6.43" text-anchor="middle" textLength="21.02" lengthAdjust="spacingAndGlyphs">Orient.</text>
<text x="232.36" y="500.6" font-size="6.43" text-anchor="middle" textLength="27.54" lengthAdjust="spacingAndGlyphs">2D Conv.</text>
<text x="264.91" y="459.78" font-size="6.43" text-anchor="middle" textLength="16.78" lengthAdjust="spacingAndGlyphs">Subs.</text>
<text x="253.29" y="408.87" font-size="6.43" text-anchor="middle" textLength="22.15" lengthAdjust="spacingAndGlyphs">Magnif.</text>
<text x="221.06" y="438.84" font-size="6.43" text-anchor="middle" textLength="9.73" lengthAdjust="spacingAndGlyphs">0.2</text>
<text x="231.16" y="434.66" font-size="6.43" text-anchor="middle" textLength="9.73" lengthAdjust="spacingAndGlyphs">0.4</text>
<text x="241.27" y="430.47" font-size="6.43" text-anchor="middle" textLength="9.73" lengthAdjust="spacingAndGlyphs">0.6</text>
<text x="251.38" y="426.28" font-size="6.43" text-anchor="middle" textLength="9.73" lengthAdjust="spacingAndGlyphs">0.8</text>
<text x="206.25" y="367.4" font-size="6.35" font-weight="bold" text-anchor="middle" textLength="37.1" lengthAdjust="spacingAndGlyphs">Zitrin-NFW</text>
</g>
<rect x="315.5" y="413.5" width="62" height="31" rx="0.8" fill="#fff" stroke="#000" stroke-width="0.65"/>
<line x1="323.7" y1="422.5" x2="341.7" y2="422.5" stroke="#00f" stroke-width="0.55"/>
<line x1="323.7" y1="434" x2="341.7" y2="434" stroke="#f00" stroke-width="0.6"/>
<text x="354.8" y="426.6" font-size="7.51" text-anchor="start" textLength="15.8" lengthAdjust="spacingAndGlyphs">Ares</text>
<text x="354.8" y="437.8" font-size="7.51" text-anchor="start" textLength="17.1" lengthAdjust="spacingAndGlyphs">Hera</text>
</svg>
</body></html>
